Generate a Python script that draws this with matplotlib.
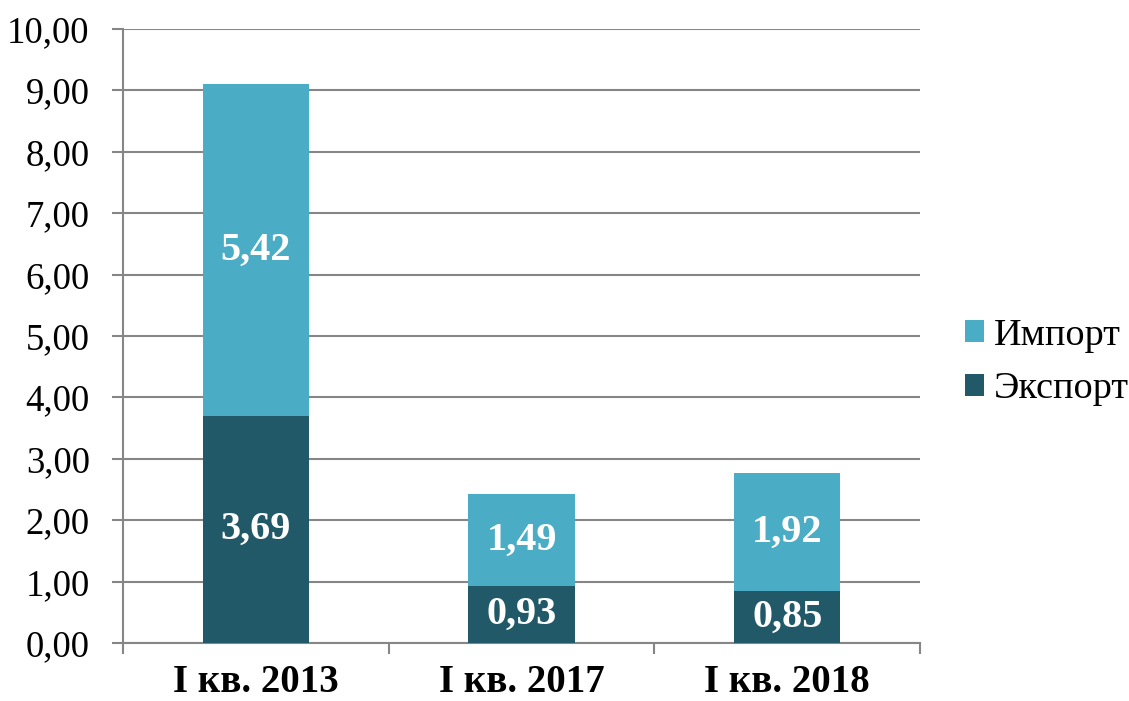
import numpy as np
import matplotlib
matplotlib.use("Agg")
import matplotlib.pyplot as plt
from matplotlib.patches import Patch
from matplotlib.ticker import FuncFormatter, FixedLocator

plt.rcParams['font.family'] = ['Liberation Serif', 'DejaVu Serif']

# data
categories = ["I кв. 2013", "I кв. 2017", "I кв. 2018"]
export_vals = [3.69, 0.93, 0.85]
import_vals = [5.42, 1.49, 1.92]
series_names = ["Экспорт", "Импорт"]

c_exp = "#215968"
c_imp = "#4BACC6"
grid_c = "#868686"

fig = plt.figure(figsize=(11.29, 7.01), dpi=100)
ax = fig.add_axes([0.109, 0.0827, 0.706, 0.8759])

x = np.arange(len(categories))
w = 0.4
b1 = ax.bar(x, export_vals, w, color=c_exp, zorder=3)
b2 = ax.bar(x, import_vals, w, bottom=export_vals, color=c_imp, zorder=3)

for i in range(len(categories)):
    ax.text(x[i], export_vals[i] / 2, ("%.2f" % export_vals[i]).replace(".", ","),
            ha="center", va="center", color="white", fontsize=29, fontweight="bold", zorder=4)
    ax.text(x[i], export_vals[i] + import_vals[i] / 2, ("%.2f" % import_vals[i]).replace(".", ","),
            ha="center", va="center", color="white", fontsize=29, fontweight="bold", zorder=4)

ax.set_xlim(-0.5, len(categories) - 0.5)
ax.set_ylim(0, 10)
ax.set_yticks(np.arange(0, 11, 1))
ax.yaxis.set_major_formatter(FuncFormatter(lambda v, p: ("%.2f" % v).replace(".", ",")))
ax.grid(axis="y", color=grid_c, lw=1.5, zorder=0)

ax.set_xticks(x)
ax.set_xticklabels(categories, fontsize=28, fontweight="bold")
ax.xaxis.set_minor_locator(FixedLocator(np.arange(-0.5, len(categories), 1)))
ax.tick_params(axis="x", which="major", length=0, pad=15)
ax.tick_params(axis="x", which="minor", length=8, width=1.5, color=grid_c)
ax.tick_params(axis="y", which="major", length=8, width=1.5, color=grid_c, labelsize=26.5, pad=16)

for s in ["top", "right"]:
    ax.spines[s].set_visible(False)
for s in ["left", "bottom"]:
    ax.spines[s].set_color(grid_c)
    ax.spines[s].set_linewidth(1.5)

handles = [Patch(facecolor=c_imp, label="Импорт"), Patch(facecolor=c_exp, label="Экспорт")]
fig.legend(handles=handles, loc="center left", bbox_to_anchor=(0.855, 0.483), frameon=False,
           fontsize=27.5, handlelength=0.5, handleheight=0.5, handletextpad=0.25, labelspacing=0.5,
           borderaxespad=0, borderpad=0)

fig.savefig("out.png", dpi=100)
